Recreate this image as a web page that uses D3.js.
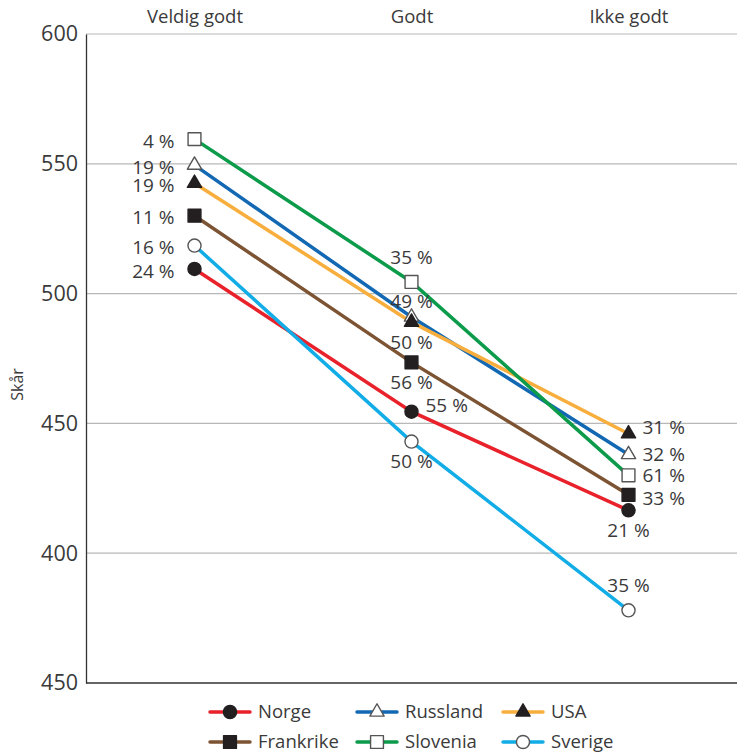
<!DOCTYPE html>
<html>
<head>
<meta charset="utf-8">
<script src="https://cdn.jsdelivr.net/npm/d3@7"></script>
<style>
  body { margin: 0; background: #fff; }
  text { font-family: "Open Sans", sans-serif; fill: #3a3a3a; }
</style>
</head>
<body>
<div id="chart"></div>
<script>
// categories and tick labels
const categories = ["Veldig godt", "Godt", "Ikke godt"];
const yTicks = [600, 550, 500, 450, 400, 350];
const yTickLabels = ["600", "550", "500", "450", "400", "450"];

// series values (score) and share labels
const countries = ["Norge", "Russland", "USA", "Frankrike", "Slovenia", "Sverige"];
const norge = [509.5, 454.5, 416.5];
const russland = [549.5, 491, 438];
const usa = [542.5, 489, 446];
const frankrike = [530, 473.5, 422.5];
const slovenia = [559.5, 504.5, 430];
const sverige = [518.5, 443, 378];

const norgePct = ["24 %", "55 %", "21 %"];
const russlandPct = ["19 %", "49 %", "32 %"];
const usaPct = ["19 %", "50 %", "31 %"];
const frankrikePct = ["11 %", "56 %", "33 %"];
const sloveniaPct = ["4 %", "35 %", "61 %"];
const sverigePct = ["16 %", "50 %", "35 %"];

// styling per series
const colors = ["#e8212b", "#1268b3", "#f8ae3c", "#7d5433", "#0b9b4a", "#12ace6"];
const symbols = [d3.symbolCircle, d3.symbolTriangle, d3.symbolTriangle, d3.symbolSquare, d3.symbolSquare, d3.symbolCircle];
const filled = [true, false, true, true, false, false];
const symSize = [135, 88, 88, 165, 165, 135];
// where each share label sits relative to its marker
const labelPlace = [
  ["left", "right-up", "below"],
  ["left", "above-near", "right"],
  ["left", "below", "right-up"],
  ["left", "below", "right-down"],
  ["left", "above", "right"],
  ["left", "below", "above"]
];

const values = [norge, russland, usa, frankrike, slovenia, sverige];
const pcts = [norgePct, russlandPct, usaPct, frankrikePct, sloveniaPct, sverigePct];

const series = countries.map((name, i) => ({
  name: name,
  color: colors[i],
  symbol: symbols[i],
  filled: filled[i],
  size: symSize[i],
  points: categories.map((c, j) => ({ cat: c, val: values[i][j], pct: pcts[i][j], place: labelPlace[i][j] }))
}));

const width = 737, height = 754;
const margin = { top: 34, right: 0, bottom: 71, left: 86 };

const svg = d3.select("#chart").append("svg")
  .attr("width", width)
  .attr("height", height);

// scales
const xScale = d3.scalePoint()
  .domain(categories)
  .range([margin.left, width - margin.right])
  .padding(0.5);

const yScale = d3.scaleLinear()
  .domain([350, 600])
  .range([height - margin.bottom, margin.top]);

// grid lines
svg.append("g")
  .selectAll("line")
  .data(yTicks.slice(0, -1))
  .join("line")
  .attr("x1", margin.left)
  .attr("x2", width)
  .attr("y1", d => yScale(d))
  .attr("y2", d => yScale(d))
  .attr("stroke", "#b8b8b8")
  .attr("stroke-width", 1.2);

// y axis
const yAxis = svg.append("g")
  .attr("transform", `translate(${margin.left},0)`)
  .call(d3.axisLeft(yScale)
    .tickValues(yTicks)
    .tickSize(0)
    .tickPadding(8)
    .tickFormat((d, i) => yTickLabels[i]));
yAxis.select(".domain").attr("stroke", "#333").attr("stroke-width", 1.3);
yAxis.selectAll("text")
  .style("font-size", "21.5px")
  .style("font-family", "'Open Sans', sans-serif")
  .attr("fill", "#3a3a3a");

// bottom axis line
svg.append("line")
  .attr("x1", margin.left)
  .attr("x2", width)
  .attr("y1", yScale(350))
  .attr("y2", yScale(350))
  .attr("stroke", "#333")
  .attr("stroke-width", 1.3);

// category labels on top
const xAxis = svg.append("g")
  .attr("transform", `translate(0,${margin.top})`)
  .call(d3.axisTop(xScale).tickSize(0).tickPadding(11));
xAxis.select(".domain").remove();
xAxis.selectAll("text")
  .style("font-size", "18.5px")
  .style("font-family", "'Open Sans', sans-serif")
  .attr("fill", "#3a3a3a");

// y axis title
svg.append("text")
  .text("Skår")
  .style("font-size", "16px")
  .style("text-anchor", "middle")
  .attr("transform", `translate(23, ${yScale(465)})rotate(-90)`);

// lines
const lineGenerator = d3.line()
  .x(d => xScale(d.cat))
  .y(d => yScale(d.val));

svg.append("g")
  .selectAll("path")
  .data(series)
  .join("path")
  .attr("d", d => lineGenerator(d.points))
  .attr("fill", "none")
  .attr("stroke", d => d.color)
  .attr("stroke-width", 3.5);

// markers
function drawMarker(sel, s) {
  sel.append("path")
    .attr("d", d3.symbol().type(s.symbol).size(s.size)())
    .attr("fill", s.filled ? "#231f20" : "#fff")
    .attr("stroke", s.filled ? "#231f20" : "#555")
    .attr("stroke-width", 1.4)
    .attr("stroke-linejoin", "round");
}

series.forEach(s => {
  s.points.forEach(p => {
    const g = svg.append("g")
      .attr("transform", `translate(${xScale(p.cat)},${yScale(p.val)})`);
    drawMarker(g, s);
  });
});

// share labels
const offsets = {
  "left": { dx: -20, dy: 2, anchor: "end" },
  "right": { dx: 14, dy: 0, anchor: "start" },
  "right-up": { dx: 14, dy: -6, anchor: "start" },
  "right-down": { dx: 14, dy: 4, anchor: "start" },
  "above": { dx: 0, dy: -25, anchor: "middle" },
  "above-near": { dx: 0, dy: -16, anchor: "middle" },
  "below": { dx: 0, dy: 20, anchor: "middle" }
};

series.forEach(s => {
  s.points.forEach(p => {
    const o = offsets[p.place];
    svg.append("text")
      .text(p.pct)
      .attr("x", xScale(p.cat) + o.dx)
      .attr("y", yScale(p.val) + o.dy)
      .attr("dy", "0.35em")
      .style("text-anchor", o.anchor)
      .style("font-size", "19px");
  });
});

// legend
const legendX = [210, 357, 503];
const legendY = [712, 742];
series.forEach((s, i) => {
  const g = svg.append("g")
    .attr("transform", `translate(${legendX[i % 3]},${legendY[Math.floor(i / 3)]})`);
  g.append("line")
    .attr("x1", 0).attr("x2", 40)
    .attr("stroke", s.color)
    .attr("stroke-width", 3.5)
    .attr("stroke-linecap", "round");
  const m = g.append("g").attr("transform", "translate(20,0)");
  drawMarker(m, s);
  g.append("text")
    .text(s.name)
    .attr("x", 48)
    .attr("dy", "0.35em")
    .style("font-size", "18.5px");
});
</script>
</body>
</html>
